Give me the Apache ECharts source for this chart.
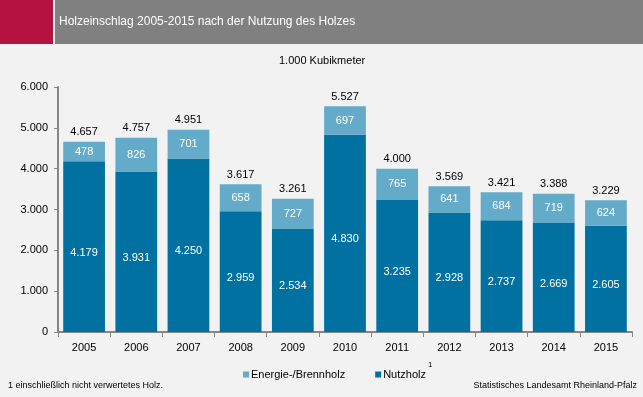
<!DOCTYPE html>
<html>
<head>
<meta charset="utf-8">
<script src="https://cdn.jsdelivr.net/npm/echarts@6/dist/echarts.min.js"></script>
<style>
  html, body { margin: 0; padding: 0; background: #f2f2f2; }
  #main { width: 643px; height: 397px; }
</style>
</head>
<body>
<div id="main"></div>
<script>
var years = ['2005', '2006', '2007', '2008', '2009', '2010', '2011', '2012', '2013', '2014', '2015'];
var nutzholz = [4179, 3931, 4250, 2959, 2534, 4830, 3235, 2928, 2737, 2669, 2605];
var brennholz = [478, 826, 701, 658, 727, 697, 765, 641, 684, 719, 624];
var yTicks = [0, 1000, 2000, 3000, 4000, 5000, 6000];

// Zahlen mit Punkt als Tausendertrenner
function fmt(v) {
    return String(v).replace(/\B(?=(\d{3})+(?!\d))/g, '.');
}

var totals = [];
for (var i = 0; i < years.length; i++) {
    totals.push(nutzholz[i] + brennholz[i]);
}

var font = 'Liberation Sans, Arial, sans-serif';
var dark = '#0071a1';
var light = '#64aac9';

var myChart = echarts.init(document.getElementById('main'));
var option = {
    backgroundColor: '#f2f2f2',
    animation: false,
    textStyle: { fontFamily: font },
    graphic: [
        { type: 'rect', left: 0, top: 0, shape: { width: 53, height: 44 }, style: { fill: '#b5123f' } },
        { type: 'rect', left: 55, top: 0, shape: { width: 588, height: 44 }, style: { fill: '#808080' } },
        { type: 'text', left: 59, top: 16, style: { text: 'Holzeinschlag 2005-2015 nach der Nutzung des Holzes', fill: '#fff', font: '12px ' + font } },
        { type: 'text', left: 279, top: 55, style: { text: '1.000 Kubikmeter', fill: '#000', font: '11px ' + font } },
        { type: 'text', left: 8, top: 381, style: { text: '1 einschließlich nicht verwertetes Holz.', fill: '#000', font: '9px ' + font } },
        { type: 'text', right: 6, top: 381, style: { text: 'Statistisches Landesamt Rheinland-Pfalz', fill: '#000', font: '9px ' + font } },
        // Fußnotenzeichen am Legendeneintrag
        { type: 'text', left: 428, top: 361, style: { text: '1', fill: '#000', font: '8px ' + font } }
    ],
    legend: {
        top: 364,
        left: 238,
        itemWidth: 6,
        itemHeight: 6,
        itemGap: 30,
        icon: 'rect',
        data: ['Energie-/Brennholz', 'Nutzholz'],
        textStyle: {
            fontSize: 11,
            color: '#000',
            padding: [0, 0, 0, -3]
        }
    },
    grid: { left: 58, right: 11, top: 87, bottom: 65 },
    xAxis: {
        type: 'category',
        data: years,
        axisLine: { lineStyle: { color: '#868686', width: 2 } },
        axisTick: { show: true, length: 5, lineStyle: { color: '#868686' } },
        axisLabel: { color: '#000', fontSize: 11, margin: 10 }
    },
    yAxis: {
        type: 'value',
        min: 0,
        max: 6000,
        interval: 1000,
        axisLine: { show: true, lineStyle: { color: '#868686', width: 2 } },
        axisTick: { show: true, length: 4, lineStyle: { color: '#868686' } },
        splitLine: { show: false },
        axisLabel: {
            color: '#000',
            fontSize: 11,
            margin: 10,
            formatter: function (v) { return yTicks.indexOf(v) >= 0 ? fmt(v) : ''; }
        }
    },
    series: [
        {
            name: 'Nutzholz',
            type: 'bar',
            stack: 'holz',
            barCategoryGap: '20%',
            itemStyle: { color: dark },
            label: { show: true, position: 'inside', offset: [0, 6], color: '#fff', fontSize: 11, formatter: function (p) { return fmt(p.value); } },
            data: nutzholz
        },
        {
            name: 'Energie-/Brennholz',
            type: 'bar',
            stack: 'holz',
            itemStyle: { color: light },
            label: { show: true, position: 'inside', color: '#fff', fontSize: 11, formatter: function (p) { return fmt(p.value); } },
            data: brennholz
        },
        {
            name: 'Summe',
            type: 'bar',
            stack: 'holz',
            itemStyle: { color: 'transparent' },
            label: {
                show: true,
                position: 'top',
                distance: 4,
                color: '#000',
                fontSize: 11,
                formatter: function (p) { return fmt(totals[p.dataIndex]); }
            },
            data: years.map(function () { return 0; })
        }
    ]
};

myChart.setOption(option);
</script>
</body>
</html>
